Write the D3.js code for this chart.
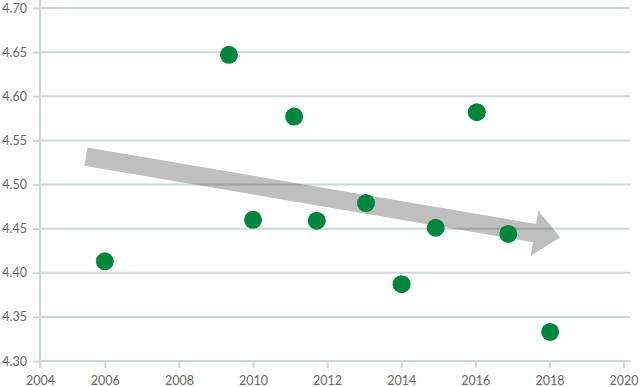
<!DOCTYPE html>
<html>
<head>
<meta charset="utf-8">
<script src="https://cdn.jsdelivr.net/npm/d3@7/dist/d3.min.js"></script>
<style>
  html, body { margin: 0; padding: 0; background: #fff; }
  svg { display: block; }
</style>
</head>
<body>
<svg id="chart" width="640" height="387"></svg>
<script>
// ---- data ----
const years  = [2006.0, 2009.35, 2010.0, 2011.11, 2011.72, 2013.05, 2014.01, 2014.93, 2016.04, 2016.89, 2018.02];
const values = [4.413, 4.647, 4.460, 4.577, 4.459, 4.479, 4.387, 4.451, 4.582, 4.444, 4.333];
const xTickValues = [2004.25, 2006, 2008, 2010, 2012, 2014, 2016, 2018, 2020];
const xTickLabels = ["2004", "2006", "2008", "2010", "2012", "2014", "2016", "2018", "2020"];
const yTickValues = [4.30, 4.35, 4.40, 4.45, 4.50, 4.55, 4.60, 4.65, 4.70];
const trendStart = [2005.49, 4.5315];
const trendEnd   = [2018.29, 4.440];

// ---- layout ----
const svg = d3.select("#chart");
const x = d3.scaleLinear().domain([2004.25, 2020]).range([40, 623.5]);
const y = d3.scaleLinear().domain([4.30, 4.70]).range([361, 8]);
const gridColor = "#cbd8d3";
const font = "Lato, 'Open Sans', sans-serif";

// gridlines
svg.append("g").selectAll("line").data(yTickValues).join("line")
  .attr("x1", 40).attr("x2", 630)
  .attr("y1", d => y(d)).attr("y2", d => y(d))
  .attr("stroke", gridColor).attr("stroke-width", 2);

// y axis
const yAxis = svg.append("g").attr("transform", "translate(40,0)")
  .call(d3.axisLeft(y).tickValues(yTickValues).tickFormat(d3.format(".2f"))
        .tickSize(7).tickPadding(6).tickSizeOuter(0));
yAxis.select(".domain").remove();
yAxis.selectAll(".tick line").attr("stroke", gridColor).attr("stroke-width", 2);
yAxis.selectAll("text").attr("fill", "#666").style("font-family", font).style("font-size", "12.5px");
svg.append("line").attr("x1", 40).attr("x2", 40).attr("y1", 0).attr("y2", 368)
  .attr("stroke", gridColor).attr("stroke-width", 2);

// x axis
const xAxis = svg.append("g").attr("transform", "translate(0,361)")
  .call(d3.axisBottom(x).tickValues(xTickValues)
        .tickFormat((d, i) => xTickLabels[i])
        .tickSize(7).tickPadding(8).tickSizeOuter(0));
xAxis.select(".domain").remove();
xAxis.selectAll(".tick line").attr("stroke", gridColor).attr("stroke-width", 2);
xAxis.selectAll("text").attr("fill", "#666").style("font-family", font).style("font-size", "12.5px");

// trend arrow
(function () {
  const x0 = x(trendStart[0]), y0 = y(trendStart[1]);
  const x1 = x(trendEnd[0]),   y1 = y(trendEnd[1]);
  const dx = x1 - x0, dy = y1 - y0, L = Math.hypot(dx, dy);
  const ux = dx / L, uy = dy / L, px = -uy, py = ux;
  const sw = 9.3, hw = 23, hl = 26;
  const bx = x1 - ux * hl, by = y1 - uy * hl;
  const pts = [
    [x0 + px * sw, y0 + py * sw],
    [bx + px * sw, by + py * sw],
    [bx + px * hw, by + py * hw],
    [x1, y1],
    [bx - px * hw, by - py * hw],
    [bx - px * sw, by - py * sw],
    [x0 - px * sw, y0 - py * sw]
  ];
  svg.append("polygon")
    .attr("points", pts.map(p => p.join(",")).join(" "))
    .attr("fill", "#2a2a2a").attr("fill-opacity", 0.3);
})();

// dots
svg.append("g").selectAll("circle").data(years).join("circle")
  .attr("cx", d => x(d))
  .attr("cy", (d, i) => y(values[i]))
  .attr("r", 9)
  .attr("fill", "#00873e");
</script>
</body>
</html>
